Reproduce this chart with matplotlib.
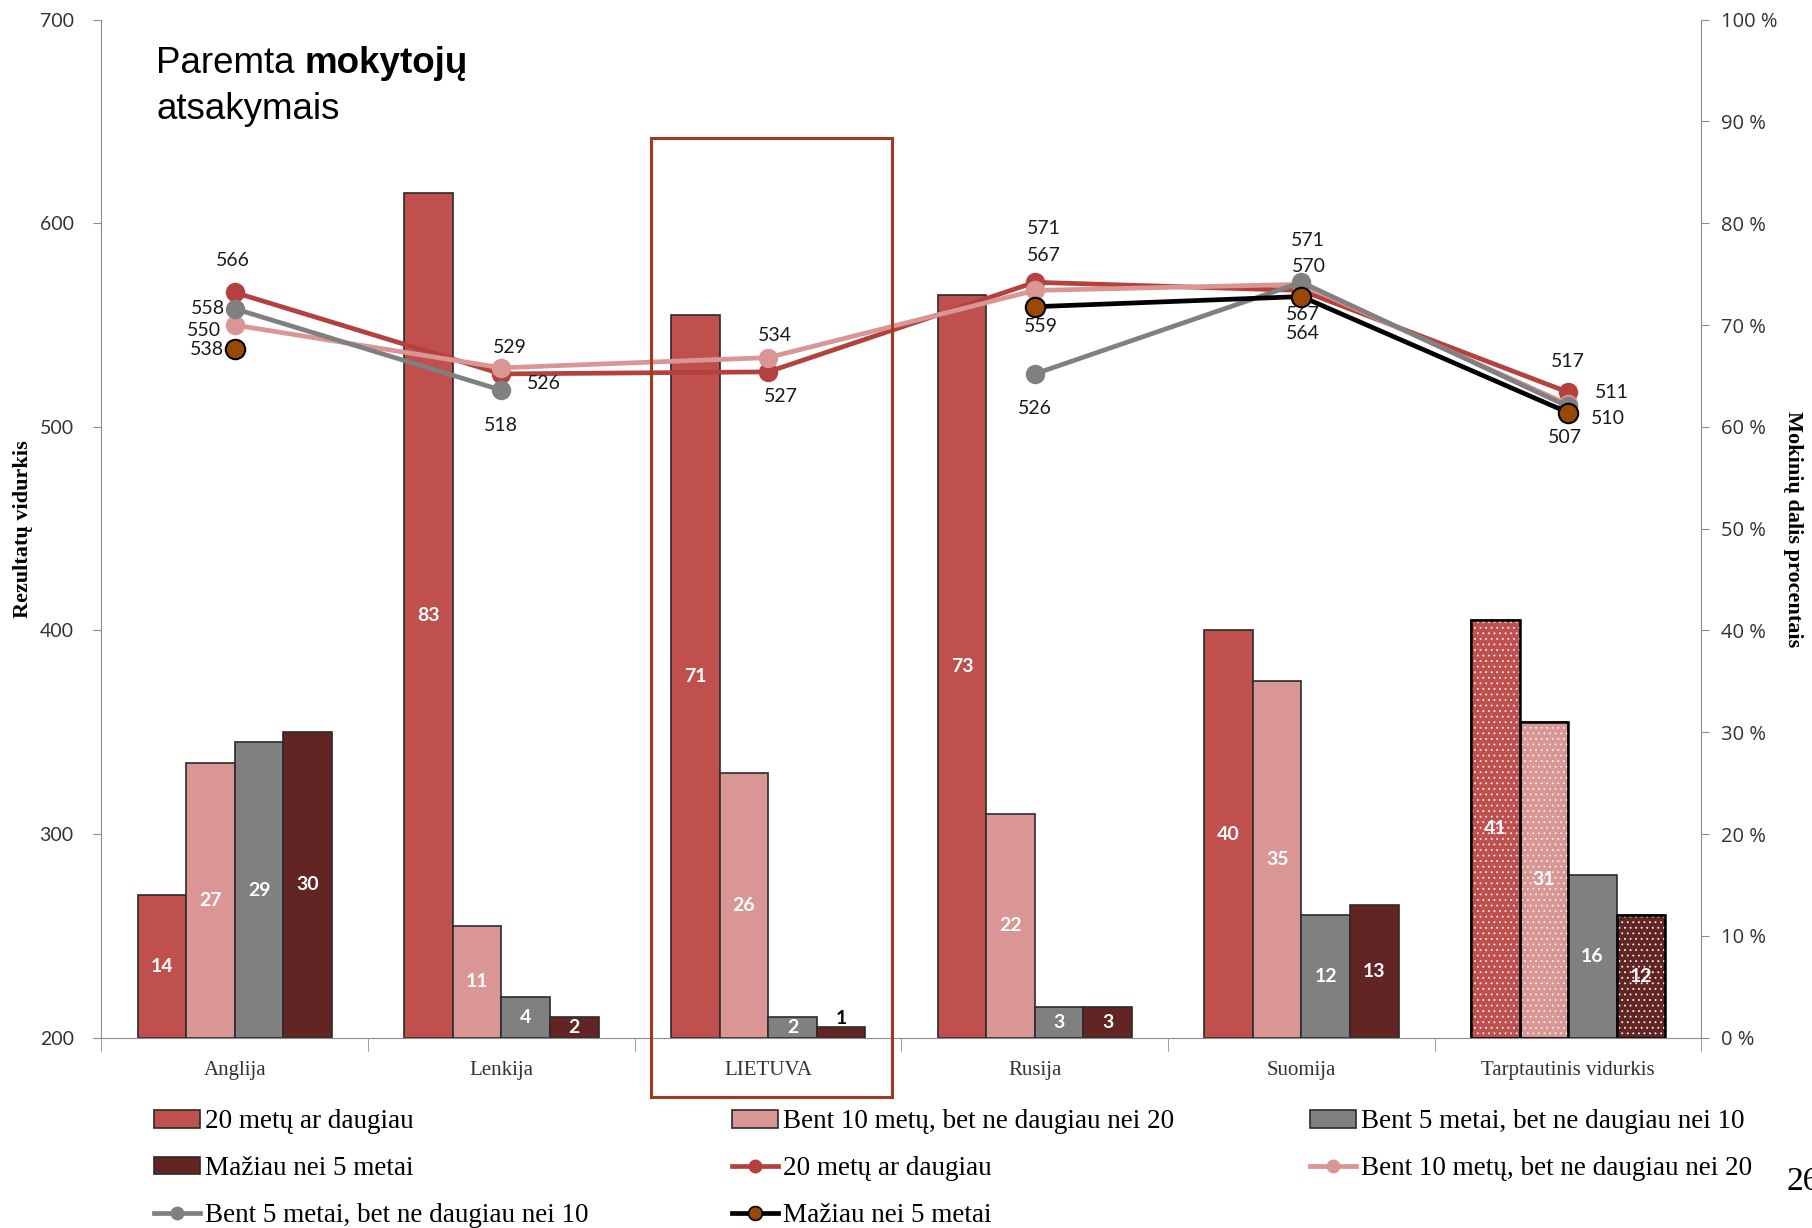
import numpy as np
import matplotlib
matplotlib.use("Agg")
import matplotlib.pyplot as plt
import matplotlib.transforms as mtransforms
from matplotlib.patches import Patch, Rectangle
from matplotlib.lines import Line2D

plt.rcParams["hatch.linewidth"] = 0.6

# ---------------- data ----------------
categories = ["Anglija", "Lenkija", "LIETUVA", "Rusija", "Suomija", "Tarptautinis vidurkis"]
series_names = ["20 metų ar daugiau", "Bent 10 metų, bet ne daugiau nei 20",
                "Bent 5 metai, bet ne daugiau nei 10", "Mažiau nei 5 metai"]

# share of students (%), right axis
share_20plus = [14, 83, 71, 73, 40, 41]
share_10_20 = [27, 11, 26, 22, 35, 31]
share_5_10 = [29, 4, 2, 3, 12, 16]
share_lt5 = [30, 2, 1, 3, 13, 12]

# average score, left axis (nan = no point)
score_20plus = [566, 526, 527, 571, 567, 517]
score_10_20 = [550, 529, 534, 567, 570, 511]
score_5_10 = [558, 518, np.nan, 526, 571, 510]
score_lt5 = [538, np.nan, np.nan, 559, 564, 507]

shares = [share_20plus, share_10_20, share_5_10, share_lt5]
scores = [score_20plus, score_10_20, score_5_10, score_lt5]

bar_colors = ["#C0504D", "#DA9694", "#808080", "#632523"]
line_colors = ["#B5413F", "#DA9694", "#808080", "#000000"]
marker_colors = ["#B5413F", "#DA9694", "#808080", "#984807"]
marker_edges = ["#B5413F", "#DA9694", "#808080", "#000000"]

# label offsets (pixels) for line data labels: [series][category]
label_offsets = [
    [(-2, 32), (42, -10), (13, -25), (9, 54), (1, -24), (0, 31)],
    [(-31, -5), (8, 20), (7, 22), (9, 35), (7, 18), (44, 12)],
    [(-27, 0), (-1, -35), None, (0, -35), (6, 42), (40, -12)],
    [(-28, 0), None, None, (6, -20), (1, -37), (-3, -25)],
]

# ---------------- figure ----------------
W, H = 1812, 1228
fig = plt.figure(figsize=(W / 100, H / 100), dpi=100)
ax = fig.add_axes([0.056, 0.155, 0.883, 0.829])
ax2 = ax.twinx()
ax.set_zorder(ax2.get_zorder() + 1)
ax.patch.set_visible(False)

x = np.arange(len(categories))
ax.set_xlim(-0.5, len(categories) - 0.5)
ax.set_ylim(200, 700)
ax2.set_ylim(0, 100)

bw = 0.182
num_font = "Lato"
for i, (vals, col) in enumerate(zip(shares, bar_colors)):
    xpos = x + (i - 1.5) * bw
    ax2.bar(xpos, vals, width=bw, color=col, edgecolor="#2b2b2b", linewidth=1.2, zorder=2)
    # dotted pattern on international average (except grey)
    if i != 2:
        ax2.bar(xpos[-1], vals[-1], width=bw, facecolor="none", edgecolor="#f4f4f4",
                hatch="...", linewidth=0, zorder=3)
        ax2.bar(xpos[-1], vals[-1], width=bw, facecolor="none", edgecolor="black",
                linewidth=1.8, zorder=4)
    for xp, v in zip(xpos, vals):
        if v >= 2:
            ax2.text(xp, v / 2, f"{v}", ha="center", va="center", color="white",
                     fontsize=14, fontweight="bold", family=num_font, zorder=5)
        else:
            ax2.text(xp, v, f"{v}", ha="center", va="bottom", color="black",
                     fontsize=14, fontweight="bold", family=num_font, zorder=5)

# lines
for s, (vals, lc, mc, me) in enumerate(zip(scores, line_colors, marker_colors, marker_edges)):
    ax.plot(x, vals, color=lc, lw=3.4, marker="o", markersize=14,
            markerfacecolor=mc, markeredgecolor=me, markeredgewidth=1.5 if s == 3 else 0,
            zorder=5 + s * 0.1, solid_capstyle="round")
    for c, v in enumerate(vals):
        off = label_offsets[s][c]
        if off is None or np.isnan(v):
            continue
        ax.annotate(f"{int(v)}", (x[c], v), xytext=off, textcoords="offset pixels",
                    ha="center", va="center", fontsize=14, family=num_font, color="#1a1a1a",
                    zorder=10)

# axes styling
spine_col = "#8c8c8c"
for a in (ax, ax2):
    a.spines["top"].set_visible(False)
    for sp in ("left", "right", "bottom"):
        a.spines[sp].set_color(spine_col)
ax2.spines["left"].set_visible(False)
ax.spines["right"].set_visible(False)
ax2.spines["bottom"].set_visible(False)

ax.set_yticks(np.arange(200, 701, 100))
ax.tick_params(axis="y", direction="out", length=6, color=spine_col, labelsize=14,
               labelcolor="#333333", pad=14)
for t in ax.get_yticklabels():
    t.set_family("Lato")
ax2.set_yticks(np.arange(0, 101, 10))
ax2.set_yticklabels([f"{v} %" for v in range(0, 101, 10)])
ax2.tick_params(axis="y", direction="out", length=6, color=spine_col, labelsize=14.5,
                labelcolor="#333333", pad=8)
for t in ax2.get_yticklabels():
    t.set_family("Open Sans")

ax.set_xticks(x)
ax.set_xticklabels(categories, family="Liberation Serif", fontsize=15, color="#333333")
ax.set_xticks(np.arange(-0.5, len(categories)), minor=True)
ax.tick_params(axis="x", which="major", length=0, pad=17)
ax.tick_params(axis="x", which="minor", length=9, direction="out", color=spine_col)

ax.set_ylabel("Rezultatų vidurkis", family="Liberation Serif", fontweight="bold", fontsize=16)
ax.yaxis.set_label_coords(-0.043, 0.5)
ax2.set_ylabel("Mokinių dalis procentais", family="Liberation Serif", fontweight="bold",
               fontsize=16, rotation=270, va="bottom")
ax2.yaxis.set_label_coords(1.051, 0.5)

# highlight box around LIETUVA
li = categories.index("LIETUVA")
trans = mtransforms.blended_transform_factory(ax.transData, ax.transAxes)
rect = Rectangle((x[li] - 0.44, -0.058), 0.906, 0.942, transform=trans, fill=False,
                 edgecolor="#A33A1F", linewidth=2.2, clip_on=False, zorder=20)
ax.add_patch(rect)

# title text
t1 = fig.text(0.0861, 0.9406, "Paremta ", family="Liberation Sans", fontsize=26.5,
              va="baseline", ha="left")
fig.canvas.draw()
ax.annotate("mokytojų", xy=(1, 0), xycoords=t1, xytext=(0, 0), textcoords="offset points",
            family="Liberation Sans", fontsize=26.5, fontweight="bold", va="bottom", ha="left")
fig.text(0.0861, 0.903, "atsakymais", family="Liberation Sans", fontsize=26.5,
         va="baseline", ha="left")

# legends (three columns)
bar_handles = [Patch(facecolor=c, edgecolor="#2b2b2b", linewidth=1.2) for c in bar_colors]
lh = [Line2D([], [], color=lc, lw=3.4, marker="o", markersize=10, markerfacecolor=mc,
             markeredgecolor=me, markeredgewidth=1.2 if s == 3 else 0)
      for s, (lc, mc, me) in enumerate(zip(line_colors, marker_colors, marker_edges))]
cols = [
    ([bar_handles[0], bar_handles[3], lh[2]], [series_names[0], series_names[3], series_names[2]]),
    ([bar_handles[1], lh[0], lh[3]], [series_names[1], series_names[0], series_names[3]]),
    ([bar_handles[2], lh[1]], [series_names[2], series_names[1]]),
]
col_x = [0.0848, 0.4037, 0.7227]
for (hs, ls), cx in zip(cols, col_x):
    fig.legend(hs, ls, loc="upper left", bbox_to_anchor=(cx, 0.0965),
               frameon=False, borderpad=0, borderaxespad=0, handlelength=1.7,
               handleheight=0.6, handletextpad=0.2, labelspacing=0.8,
               prop={"family": "Liberation Serif", "size": 19.5})

fig.text(0.9857, 0.038, "26", family="Liberation Serif", fontsize=24, ha="left", va="center")

fig.savefig("out.png", dpi=100)
